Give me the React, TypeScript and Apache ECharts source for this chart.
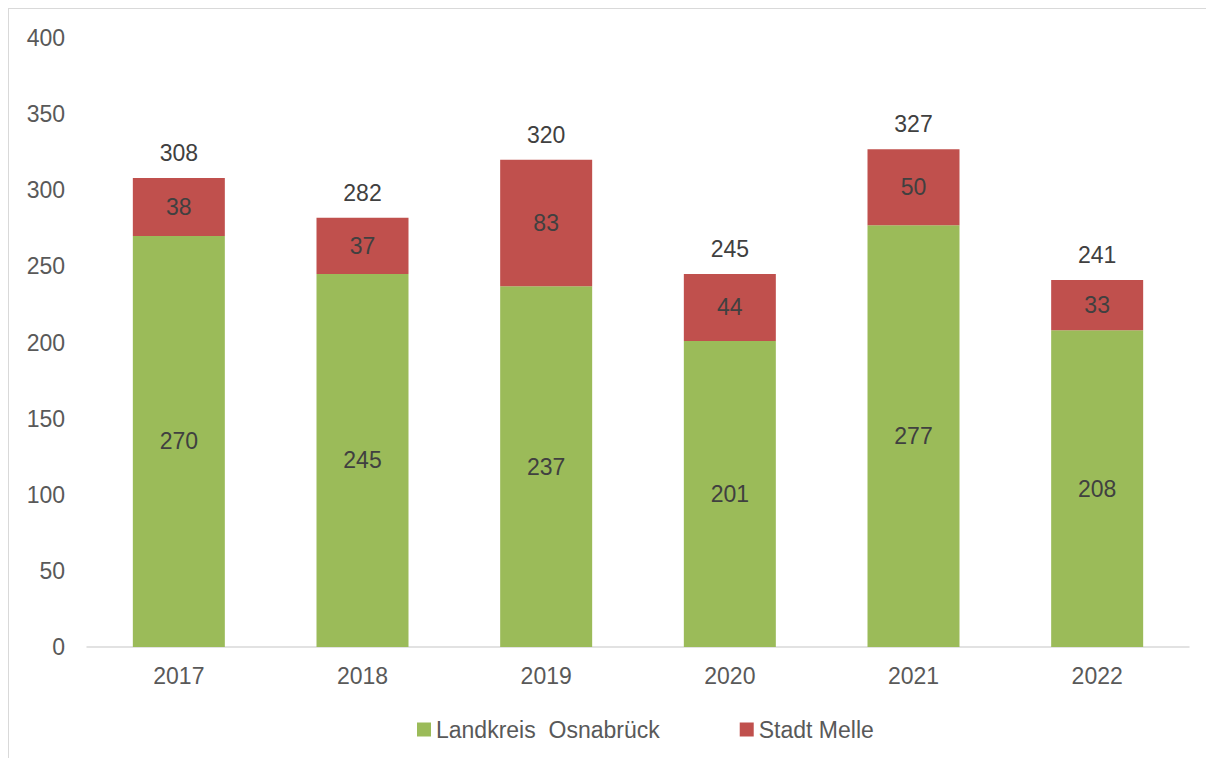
import React, { useEffect, useRef } from "react";
import * as echarts from "echarts";

const years = ["2017", "2018", "2019", "2020", "2021", "2022"];
const landkreis = [270, 245, 237, 201, 277, 208];
const melle = [38, 37, 83, 44, 50, 33];
const totals = [308, 282, 320, 245, 327, 241];
const seriesNames = ["Landkreis  Osnabrück", "Stadt Melle"];

export default function App() {
  const ref = useRef<HTMLDivElement>(null);
  useEffect(() => {
    if (!ref.current) return;
    const chart = echarts.init(ref.current, null, { renderer: "svg" });
    const font = "Arial, 'Liberation Sans', sans-serif";
    chart.setOption({
      animation: false,
      textStyle: { fontFamily: font },
      grid: { left: 78, right: 25, top: 29, bottom: 111, containLabel: false },
      legend: {
        data: seriesNames,
        left: 403,
        top: 704,
        itemWidth: 14,
        itemHeight: 14,
        itemGap: 80,
        icon: "rect",
        textStyle: { fontSize: 23, color: "#595959", fontFamily: font },
      },
      xAxis: {
        type: "category",
        data: years,
        axisLine: { lineStyle: { color: "#d9d9d9", width: 1.5 } },
        axisTick: { show: false },
        axisLabel: { fontSize: 23, color: "#595959", margin: 17, fontFamily: font },
      },
      yAxis: {
        type: "value",
        min: 0,
        max: 400,
        interval: 50,
        axisLine: { show: false },
        axisTick: { show: false },
        splitLine: { show: false },
        axisLabel: { fontSize: 23, color: "#595959", margin: 22, fontFamily: font },
      },
      series: [
        {
          name: seriesNames[0],
          type: "bar",
          stack: "s",
          barWidth: 92,
          data: landkreis,
          itemStyle: { color: "#9BBB59" },
          label: { show: true, position: "inside", fontSize: 23, color: "#404040", fontFamily: font },
        },
        {
          name: seriesNames[1],
          type: "bar",
          stack: "s",
          barWidth: 92,
          data: melle,
          itemStyle: { color: "#C0504D" },
          label: { show: true, position: "inside", fontSize: 23, color: "#404040", fontFamily: font },
        },
        {
          name: "Gesamt",
          type: "line",
          data: totals,
          symbol: "circle",
          symbolSize: 1,
          showSymbol: true,
          itemStyle: { color: "rgba(0,0,0,0)" },
          lineStyle: { color: "rgba(0,0,0,0)", width: 0 },
          label: { show: true, position: "top", distance: 13, fontSize: 23, color: "#404040", fontFamily: font },
        },
      ],
    });
    return () => chart.dispose();
  }, []);
  return (
    <div
      ref={ref}
      style={{
        width: 1205,
        height: 749,
        borderTop: "1px solid #d9d9d9",
        borderLeft: "1px solid #d9d9d9",
      }}
    />
  );
}
